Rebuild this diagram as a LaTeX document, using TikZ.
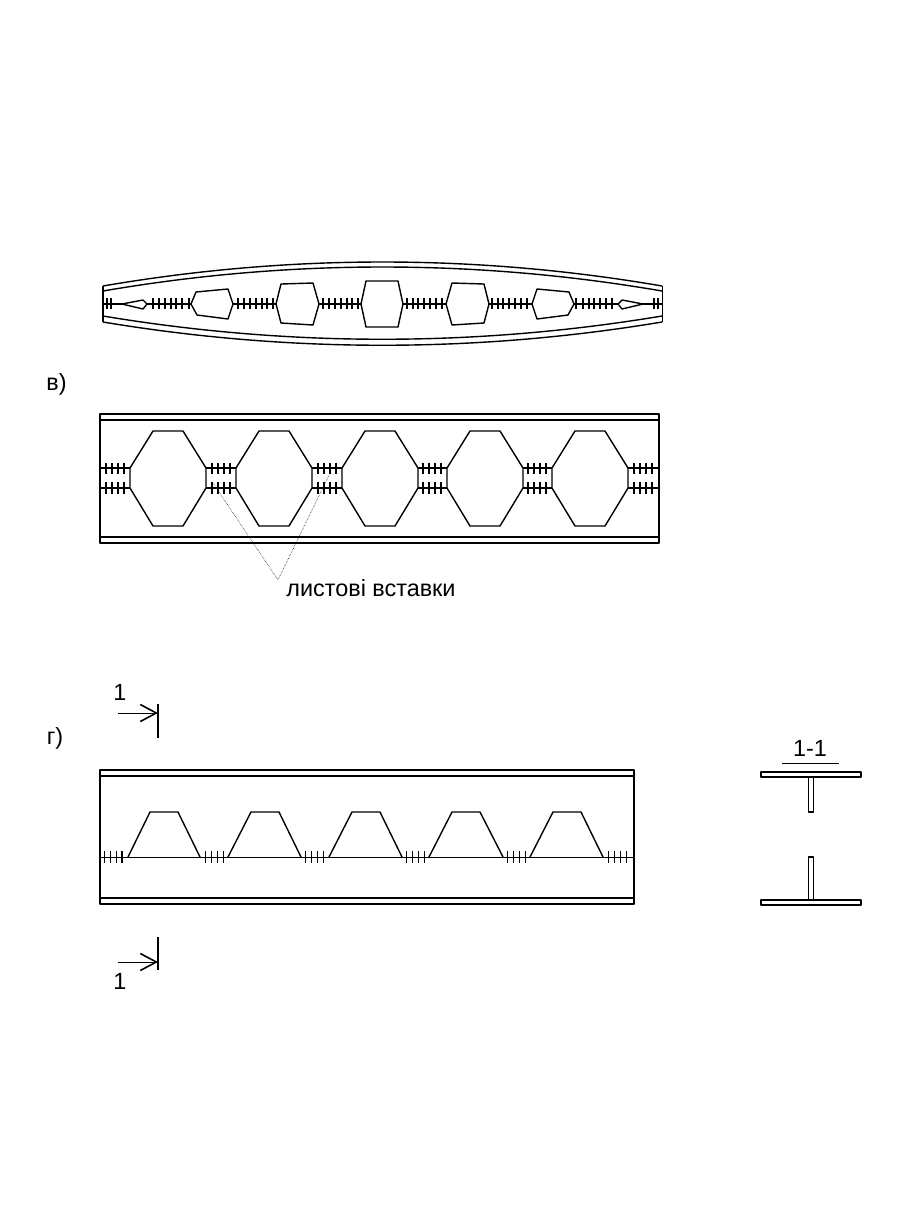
\documentclass[tikz,border=0pt]{standalone}
\usepackage{fontspec}
\setmainfont{Liberation Sans}
\usetikzlibrary{arrows.meta,positioning}
\tikzset{
  thinline/.style={draw,line width=1bp},
  mainline/.style={draw,line width=1.4bp},
  heavyline/.style={draw,line width=2bp},
  thintick/.style={draw,line width=0.8bp},
  tick/.style={draw,line width=1.1bp},
  heavytick/.style={draw,line width=2.1bp},
  leader/.style={draw,densely dotted,line width=0.6bp,black!85},
  lbl/.style={inner sep=0pt,font=\fontsize{23.4bp}{26bp}\selectfont},
}
\begin{document}
\begin{tikzpicture}[x=1bp,y=-1bp,>={Straight Barb[length=16bp,width=17bp,line width=1.6bp]},line join=bevel,]
\useasboundingbox (0,0) rectangle (922,1219);
%% top beam
\draw [mainline] (103,286) .. controls (289,254) and (476,254) .. (662,286);
\draw [mainline] (103,291) .. controls (289,259) and (476,259) .. (662,291);
\draw [mainline] (103,316) .. controls (289,347) and (476,347) .. (662,316);
\draw [mainline] (103,322) .. controls (289,353) and (476,353) .. (662,322);
\draw [heavyline] (103,286) -- (103,322);
\draw [thinline] (662,286) -- (662,322);
\draw [heavyline] (103,304) -- (122,304) (147,304) -- (191,304) (233,304) -- (276,304) (319,304) -- (361,304);
\draw [heavyline] (403,304) -- (446,304) (489,304) -- (532,304) (574,304) -- (618,304) (643,304) -- (662,304);
\draw [mainline] (122,304) -- (143,300) -- (147,304) -- (143,309) -- cycle;
\draw [mainline] (191,304) -- (196,292) -- (228,289) -- (233,304) -- (228,319) -- (197,315) -- cycle;
\draw [mainline] (276,304) -- (281,284) -- (313,283) -- (319,304) -- (313,325) -- (281,323) -- cycle;
\draw [mainline] (361,304) -- (366,281) -- (398,281) -- (403,304) -- (398,327) -- (366,327) -- cycle;
\draw [mainline] (446,304) -- (452,283) -- (484,284) -- (489,304) -- (484,323) -- (452,325) -- cycle;
\draw [mainline] (532,304) -- (537,289) -- (569,292) -- (574,304) -- (568,315) -- (537,319) -- cycle;
\draw [mainline] (643,304) -- (622,300) -- (618,304) -- (622,309) -- cycle;
\draw [heavytick] (107,298) -- +(0,11) (111,298) -- +(0,11);
\draw [heavytick] (153,298) -- +(0,11) (159,298) -- +(0,11) (165,298) -- +(0,11) (171,298) -- +(0,11) (176,298) -- +(0,11) (182,298) -- +(0,11) (189,298) -- +(0,11);
\draw [heavytick] (238,298) -- +(0,11) (244,298) -- +(0,11) (250,298) -- +(0,11) (256,298) -- +(0,11) (262,298) -- +(0,11) (267,298) -- +(0,11) (273,298) -- +(0,11);
\draw [heavytick] (323,298) -- +(0,11) (329,298) -- +(0,11) (335,298) -- +(0,11) (341,298) -- +(0,11) (347,298) -- +(0,11) (352,298) -- +(0,11) (358,298) -- +(0,11);
\draw [heavytick] (407,298) -- +(0,11) (413,298) -- +(0,11) (418,298) -- +(0,11) (424,298) -- +(0,11) (430,298) -- +(0,11) (436,298) -- +(0,11) (442,298) -- +(0,11);
\draw [heavytick] (492,298) -- +(0,11) (498,298) -- +(0,11) (503,298) -- +(0,11) (509,298) -- +(0,11) (515,298) -- +(0,11) (521,298) -- +(0,11) (527,298) -- +(0,11);
\draw [heavytick] (576,298) -- +(0,11) (583,298) -- +(0,11) (589,298) -- +(0,11) (594,298) -- +(0,11) (600,298) -- +(0,11) (606,298) -- +(0,11) (612,298) -- +(0,11);
\draw [heavytick] (654,298) -- +(0,11) (658,298) -- +(0,11);
%% panel v
\node (labv) at (56.5,384) [lbl] {в)};
\draw [heavyline] (100,414) rectangle (659,543);
\draw [heavyline] (100,420) -- (659,420) (100,537) -- (659,537);
\draw [mainline] (153,431) -- (183,431) -- (206,468) -- (206,488) -- (183,526) -- (153,526) -- (130,488) -- (130,468) -- cycle;
\draw [mainline] (259,431) -- (289,431) -- (312,468) -- (312,488) -- (289,526) -- (259,526) -- (236,488) -- (236,468) -- cycle;
\draw [mainline] (365,431) -- (395,431) -- (418,468) -- (418,488) -- (395,526) -- (365,526) -- (342,488) -- (342,468) -- cycle;
\draw [mainline] (470,431) -- (500,431) -- (523,468) -- (523,488) -- (500,526) -- (470,526) -- (447,488) -- (447,468) -- cycle;
\draw [mainline] (575,431) -- (605,431) -- (628,468) -- (628,488) -- (605,526) -- (575,526) -- (552,488) -- (552,468) -- cycle;
\draw [mainline] (100,468) -- (130,468) (100,488) -- (130,488) (206,468) -- (236,468) (206,488) -- (236,488);
\draw [mainline] (312,468) -- (342,468) (312,488) -- (342,488) (418,468) -- (447,468) (418,488) -- (447,488);
\draw [mainline] (523,468) -- (552,468) (523,488) -- (552,488) (628,468) -- (659,468) (628,488) -- (659,488);
\draw [tick] (106,463) -- +(0,11) (112,463) -- +(0,11) (118,463) -- +(0,11) (106,482) -- +(0,12) (112,482) -- +(0,12) (118,482) -- +(0,12);
\draw [heavytick] (124,463) -- +(0,11) (124,482) -- +(0,12);
\draw [tick] (212,463) -- +(0,11) (218,463) -- +(0,11) (224,463) -- +(0,11) (230,463) -- +(0,11) (212,482) -- +(0,12) (218,482) -- +(0,12) (224,482) -- +(0,12) (230,482) -- +(0,12);
\draw [tick] (318,463) -- +(0,11) (324,463) -- +(0,11) (330,463) -- +(0,11) (336,463) -- +(0,11) (318,482) -- +(0,12) (324,482) -- +(0,12) (330,482) -- +(0,12) (336,482) -- +(0,12);
\draw [tick] (423,463) -- +(0,11) (429,463) -- +(0,11) (435,463) -- +(0,11) (441,463) -- +(0,11) (423,482) -- +(0,12) (429,482) -- +(0,12) (435,482) -- +(0,12) (441,482) -- +(0,12);
\draw [tick] (528,463) -- +(0,11) (534,463) -- +(0,11) (540,463) -- +(0,11) (546,463) -- +(0,11) (528,482) -- +(0,12) (534,482) -- +(0,12) (540,482) -- +(0,12) (546,482) -- +(0,12);
\draw [tick] (634,463) -- +(0,11) (640,463) -- +(0,11) (646,463) -- +(0,11) (652,463) -- +(0,11) (634,482) -- +(0,12) (640,482) -- +(0,12) (646,482) -- +(0,12) (652,482) -- +(0,12);
\node (labinsert) at (371,588) [lbl] {листові вставки};
\coordinate (leadtip) at (278,580);
\coordinate (leada) at (213,483);
\coordinate (leadb) at (330,473);
\draw [leader] (leada) -- (leadtip) -- (leadb);
%% panel g
\node (labg) at (55,738) [lbl] {г)};
\node (labtop) at (120,692) [lbl] {1};
\coordinate (topa) at (118,713);
\coordinate (topb) at (158,713);
\draw [->,thinline] (topa) -- (topb);
\draw [heavyline] (158,704) -- (158,738);
\node (labbot) at (120,981) [lbl] {1};
\coordinate (bota) at (118,962);
\coordinate (botb) at (158,962);
\draw [->,thinline] (bota) -- (botb);
\draw [heavyline] (158,937) -- (158,970);
\draw [mainline] (100,770) rectangle (634,904);
\draw [heavyline] (100,776) -- (634,776);
\draw [mainline] (100,898) -- (634,898);
\draw [heavyline] (100,770) -- (100,904);
\draw [thinline] (100,857) -- (634,857);
\draw [mainline] (128,857) -- (150,812) -- (178,812) -- (200,857);
\draw [mainline] (228,857) -- (251,812) -- (279,812) -- (301,857);
\draw [mainline] (329,857) -- (352,812) -- (380,812) -- (402,857);
\draw [mainline] (429,857) -- (452,812) -- (480,812) -- (503,857);
\draw [mainline] (530,857) -- (553,812) -- (581,812) -- (603,857);
\draw [thintick] (104,851) -- +(0,12) (110,851) -- +(0,12) (116,851) -- +(0,12);
\draw [heavytick] (122,851) -- +(0,12);
\draw [thintick] (205,851) -- +(0,12) (211,851) -- +(0,12) (217,851) -- +(0,12) (223,851) -- +(0,12);
\draw [thintick] (305,851) -- +(0,12) (311,851) -- +(0,12) (317,851) -- +(0,12) (323,851) -- +(0,12);
\draw [thintick] (406,851) -- +(0,12) (412,851) -- +(0,12) (418,851) -- +(0,12) (424,851) -- +(0,12);
\draw [thintick] (507,851) -- +(0,12) (513,851) -- +(0,12) (519,851) -- +(0,12) (525,851) -- +(0,12);
\draw [thintick] (608,851) -- +(0,12) (614,851) -- +(0,12) (620,851) -- +(0,12) (626,851) -- +(0,12);
%% section 1-1
\node (labsec) at (810,748) [lbl] {1-1};
\draw [thinline] (782,763) -- (839,763);
\draw [mainline] (761,772) rectangle (861,777);
\draw [mainline] (808.5,777) -- (808.5,812) -- (813.5,812) -- (813.5,777);
\draw [mainline] (761,900) rectangle (861,905);
\draw [mainline] (808.5,900) -- (808.5,857) -- (813.5,857) -- (813.5,900);
%
\end{tikzpicture}
\end{document}
